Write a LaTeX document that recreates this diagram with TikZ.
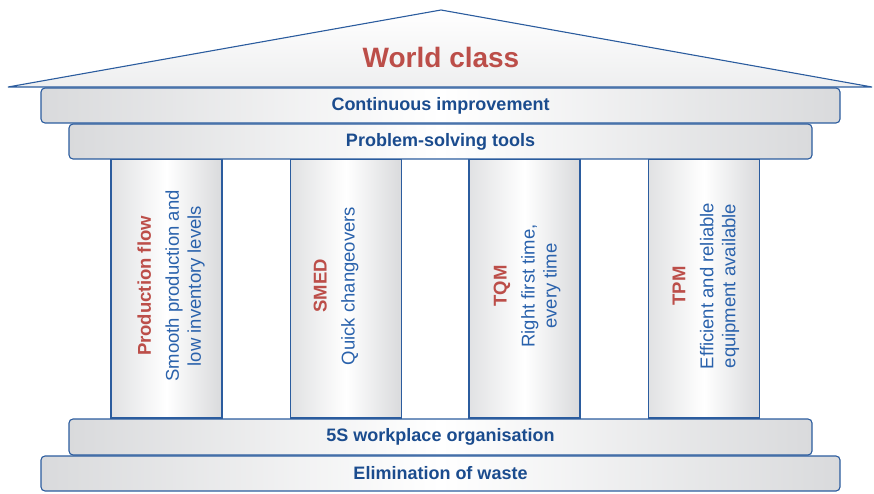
\documentclass[tikz,border=0pt]{standalone}
\usepackage{fontspec}
\setmainfont{Liberation Sans}
\definecolor{edgeblue}{HTML}{2B5C9E}
\definecolor{textblue}{HTML}{1B4C8E}
\definecolor{descblue}{HTML}{2A62AC}
\definecolor{titlered}{HTML}{BC4E49}
\definecolor{shadegray}{HTML}{D9DADC}
\tikzset{
  bar/.style={draw=edgeblue, line width=1.1pt, rounded corners=4pt,
    left color=shadegray, right color=shadegray, middle color=white,
    minimum height=35pt, inner sep=0pt,
    font=\fontsize{18}{20}\selectfont\bfseries, text=textblue},
  pillar/.style={draw=edgeblue, line width=1.1pt,
    left color=shadegray!80, right color=shadegray, middle color=white,
    minimum width=111pt, minimum height=259pt, inner sep=0pt},
  pillartext/.style={rotate=90, align=center, text=descblue,
    font=\fontsize{18.5}{22}\selectfont},
  roof/.style={draw=edgeblue, line width=1.1pt, top color=white, bottom color=shadegray!45}
}
\newcommand{\pillartitle}[1]{{\color{titlered}\bfseries #1}\\[6pt]}
\begin{document}
\begin{tikzpicture}[x=1pt,y=-1pt]
  \useasboundingbox (0,0) rectangle (874,494);
  % roof
  \coordinate (roofL) at (8,87);
  \coordinate (roofT) at (441,10);
  \coordinate (roofR) at (872,87);
  \path[roof] (roofL) -- (roofT) -- (roofR) -- cycle;
  \node[text=titlered, font=\fontsize{28}{30}\selectfont\bfseries] (wc) at (441,57) {World class};
  % pillars
  \node[pillar] (p1) at (166.5,288.5) {};
  \node[pillar] (p2) at (346,288.5) {};
  \node[pillar] (p3) at (524.5,288.5) {};
  \node[pillar] (p4) at (704,288.5) {};
  \node[pillartext] (t1) at (171,286) {\pillartitle{Production flow}Smooth production and\\low inventory levels};
  \node[pillartext] (t2) at (336,286) {\pillartitle{SMED}Quick changeovers};
  \node[pillartext] (t3) at (527,286) {\pillartitle{TQM}Right first time,\\every time};
  \node[pillartext] (t4) at (706,286) {\pillartitle{TPM}Efficient and reliable\\equipment available};
  % horizontal bands
  \node[bar, minimum width=799pt] (ci) at (440.5,105.5) {Continuous improvement};
  \node[bar, minimum width=743pt] (ps) at (440.5,141.5) {Problem-solving tools};
  \node[bar, minimum width=743pt, minimum height=36pt] (fs) at (440.5,437) {5S workplace organisation};
  \node[bar, minimum width=799pt] (ew) at (440.5,473.5) {Elimination of waste};
\end{tikzpicture}
\end{document}
